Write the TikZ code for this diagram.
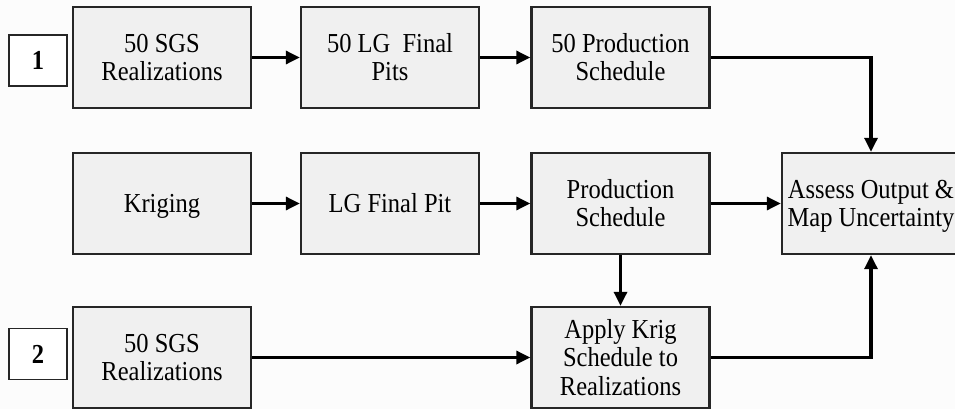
\documentclass[tikz,border=0pt]{standalone}
\usepackage{fontspec}
\usepackage{graphicx}
\setmainfont{Liberation Serif}
\usetikzlibrary{arrows.meta}
\newcommand{\tallText}[1]{\raisebox{-3.5pt}[\height][\depth]{\scalebox{1}[1.12]{\begin{tabular}{@{}c@{}}#1\end{tabular}}}}
\begin{document}
\begin{tikzpicture}[x=1pt,y=-1pt,
  procbox/.style={draw=black!85, line width=2.4pt, fill=black!6, rectangle,
    minimum width=178pt, minimum height=101pt, inner sep=0pt, align=center,
    font=\fontsize{24.5}{25.3}\selectfont},
  tagbox/.style={draw=black!85, line width=1.4pt, fill=white, rectangle,
    minimum width=58pt, minimum height=51pt, inner sep=0pt,
    font=\fontsize{24.5}{25.3}\selectfont\bfseries},
  flow/.style={line width=3.2pt, draw=black, -{Triangle[length=14pt,width=13pt]}}]
\useasboundingbox (0,0) rectangle (955,409);
\fill[black!1] (0,0) rectangle (955,409);
\node[tagbox] (t1) at (38,60.5) {\tallText{1}};
\node[tagbox] (t2) at (38,354) {\tallText{2}};
\node[procbox] (a1) at (162,57.5) {\tallText{50 SGS\\Realizations}};
\node[procbox] (a2) at (390,57.5) {\tallText{50 LG~~Final\\Pits}};
\node[procbox] (a3) at (620.5,57.5) {\tallText{50 Production\\Schedule}};
\node[procbox] (b1) at (162,203.5) {\tallText{Kriging}};
\node[procbox] (b2) at (390,203.5) {\tallText{LG Final Pit}};
\node[procbox] (b3) at (620.5,203.5) {\tallText{Production\\Schedule}};
\node[procbox] (d) at (871,203.5) {\tallText{Assess Output \&\\Map Uncertainty}};
\node[procbox] (c1) at (162,357.5) {\tallText{50 SGS\\Realizations}};
\node[procbox] (c3) at (620.5,357.5) {\tallText{Apply Krig\\Schedule to\\Realizations}};
\draw[flow] (a1) -- (a2);
\draw[flow] (a2) -- (a3);
\draw[flow] (b1) -- (b2);
\draw[flow] (b2) -- (b3);
\draw[flow] (b3) -- (d);
\draw[flow] (b3) -- (c3);
\draw[flow] (c1) -- (c3);
\draw[flow] (a3.east) -| (d.north);
\draw[flow] (c3.east) -| (d.south);
\end{tikzpicture}
\end{document}
